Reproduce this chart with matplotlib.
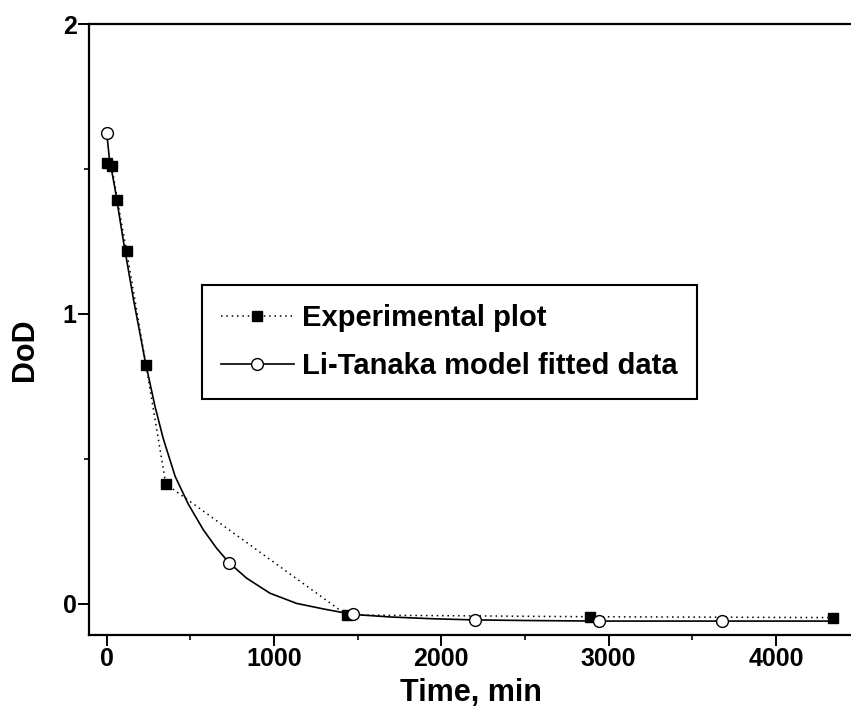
import matplotlib
matplotlib.use('Agg')
import matplotlib.pyplot as plt
from matplotlib.ticker import MultipleLocator

plt.rcParams['font.family'] = 'Liberation Sans'
plt.rcParams['font.weight'] = 'bold'

# experimental points
exp_t = [0, 30, 63, 119, 235, 353, 1434, 2889, 4339]
exp_dod = [1.52, 1.51, 1.394, 1.216, 0.823, 0.414, -0.038, -0.044, -0.047]

# Li-Tanaka fitted curve
fit_t = [0, 15, 50, 100, 160, 229, 289, 338, 409, 487, 577, 657, 730, 836,
         976, 1135, 1294, 1470, 1700, 1950, 2200, 2500, 2940, 3300, 3680,
         4000, 4340]
fit_dod = [1.625, 1.54, 1.43, 1.25, 1.05, 0.84, 0.68, 0.57, 0.44, 0.345,
           0.256, 0.192, 0.143, 0.089, 0.037, 0.002, -0.017, -0.036, -0.045,
           -0.051, -0.055, -0.057, -0.059, -0.059, -0.059, -0.059, -0.059]
marker_t = [0, 730, 1470, 2200, 2940, 3680]

fig = plt.figure(figsize=(8.51, 7.17), dpi=100)
ax = fig.add_axes([89 / 851, 82 / 717, 1 - 89 / 851, (635 - 24) / 717])

ax.plot(exp_t, exp_dod, color='k', linestyle=(0, (1, 2.5)), linewidth=1.1,
        marker='s', markersize=7.5, markerfacecolor='k', markeredgecolor='k',
        label='Experimental plot')
ax.plot(fit_t, fit_dod, color='k', linestyle='-', linewidth=1.2,
        marker='o', markersize=8.5, markerfacecolor='white',
        markeredgecolor='k', markeredgewidth=1.0,
        markevery=[fit_t.index(t) for t in marker_t],
        label='Li-Tanaka model fitted data')

ax.set_xlim(-106, 4449)
ax.set_ylim(-0.107, 2.0)

ax.spines['right'].set_visible(False)
for s in ['left', 'bottom', 'top']:
    ax.spines[s].set_linewidth(1.6)

ax.xaxis.set_major_locator(MultipleLocator(1000))
ax.xaxis.set_minor_locator(MultipleLocator(500))
ax.yaxis.set_major_locator(MultipleLocator(1))
ax.yaxis.set_minor_locator(MultipleLocator(0.5))
ax.tick_params(which='major', direction='out', length=8, width=1.4,
               labelsize=18, pad=1, top=False, right=False)
ax.tick_params(which='minor', direction='out', length=3.5, width=1.2,
               top=False, right=False)
for lab in ax.get_xticklabels() + ax.get_yticklabels():
    lab.set_fontweight('bold')

ax.set_xlabel('Time, min', fontsize=22, fontweight='bold')
ax.xaxis.set_label_coords((471 - 89) / 762, -0.07)
ax.set_ylabel('DoD', fontsize=22, fontweight='bold')
ax.yaxis.set_label_coords(-0.064, (635 - 350) / 611)

leg = ax.legend(loc='upper left', bbox_to_anchor=(0.148, 0.573),
                prop={'size': 21, 'weight': 'bold'}, frameon=True,
                fancybox=False, framealpha=1, edgecolor='k',
                handlelength=2.5, handletextpad=0.3, labelspacing=0.7,
                borderpad=0.65, borderaxespad=0)
leg.get_frame().set_linewidth(1.5)

fig.savefig('out.png', dpi=100)
